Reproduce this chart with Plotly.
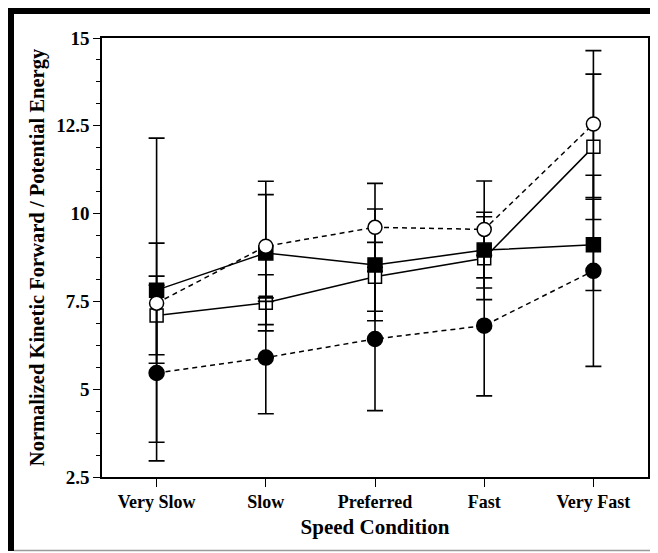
import plotly.graph_objects as go

categories = ["Very Slow", "Slow", "Preferred", "Fast", "Very Fast"]

open_square = [7.10, 7.46, 8.20, 8.73, 11.90]
open_square_err = [1.12, 0.80, 0.98, 1.18, 2.07]

filled_square = [7.82, 8.88, 8.54, 8.96, 9.11]
filled_square_err = [4.33, 2.04, 1.59, 1.08, 1.30]

filled_circle = [5.46, 5.90, 6.43, 6.81, 8.37]
filled_circle_err = [2.50, 1.60, 2.04, 2.00, 2.72]

open_circle = [7.45, 9.07, 9.61, 9.55, 12.55]
open_circle_err = [1.71, 1.47, 1.25, 1.38, 2.09]

y_ticks = [2.5, 5, 7.5, 10, 12.5, 15]
y_tick_text = ["2.5", "5", "7.5", "10", "12.5", "15"]

FONT = "Liberation Serif"

# page body has a default 8px margin; work in screen pixels and shift
OFF = 8
W, H = 658, 553
PL, PR, PT, PB = 102, 648, 38, 477  # plot area in screen pixels

def px(x):
    return (x - PL) / (PR - PL)

def py(y):
    return (PB - y) / (PB - PT)

fig = go.Figure()

def add_series(vals, errs, symbol, fill, dash, size):
    fig.add_trace(go.Scatter(
        x=categories, y=vals,
        mode="lines+markers",
        line=dict(color="black", width=1.5, dash=dash),
        marker=dict(symbol=symbol, size=size, color=fill,
                    line=dict(color="black", width=1.5)),
        error_y=dict(type="data", array=errs, visible=True,
                     color="black", thickness=1.6, width=8),
        showlegend=False,
    ))

add_series(open_square, open_square_err, "square", "white", "solid", 13)
add_series(filled_square, filled_square_err, "square", "black", "solid", 14)
add_series(filled_circle, filled_circle_err, "circle", "black", "5px,4px", 15)
add_series(open_circle, open_circle_err, "circle", "white", "5px,4px", 14)

fig.update_layout(
    width=W, height=H,
    margin=dict(l=PL - OFF, r=W - (PR - OFF), t=PT - OFF, b=H - (PB - OFF)),
    paper_bgcolor="white", plot_bgcolor="white",
    font=dict(family=FONT, color="black", size=17),
    xaxis=dict(
        range=[-0.5, 4.5], automargin=False,
        showline=True, linecolor="black", linewidth=1.5, mirror=True,
        ticks="outside", ticklen=8, tickwidth=1.2, tickcolor="black",
        tickfont=dict(family=FONT, size=18, weight="bold"),
        showgrid=False, zeroline=False,
        title=dict(text="Speed Condition",
                   font=dict(family=FONT, size=21, weight="bold"),
                   standoff=8),
    ),
    yaxis=dict(
        range=[2.5, 15], automargin=False,
        tickvals=y_ticks, ticktext=y_tick_text,
        showline=True, linecolor="black", linewidth=1.5, mirror=True,
        ticks="outside", ticklen=7, tickwidth=1.2, tickcolor="black",
        minor=dict(ticks="outside", ticklen=4, tickwidth=1, tickcolor="black",
                   dtick=0.625, tick0=2.5, showgrid=False),
        tickfont=dict(family=FONT, size=19, weight="bold"),
        showgrid=False, zeroline=False,
        title=dict(text="Normalized Kinetic Forward / Potential Energy",
                   font=dict(family=FONT, size=20.5, weight="bold"),
                   standoff=6),
    ),
    shapes=[
        dict(type="rect", xref="paper", yref="paper",
             x0=px(7), x1=px(14), y0=py(551), y1=py(8),
             fillcolor="black", line=dict(width=0), layer="above"),
        dict(type="rect", xref="paper", yref="paper",
             x0=px(7), x1=px(670), y0=py(14), y1=py(8),
             fillcolor="black", line=dict(width=0), layer="above"),
        dict(type="line", xref="paper", yref="paper",
             x0=px(14), x1=px(670), y0=py(550.5), y1=py(550.5),
             line=dict(color="#9a9a9a", width=1.5), layer="above"),
    ],
)

fig.write_html("out.html")
